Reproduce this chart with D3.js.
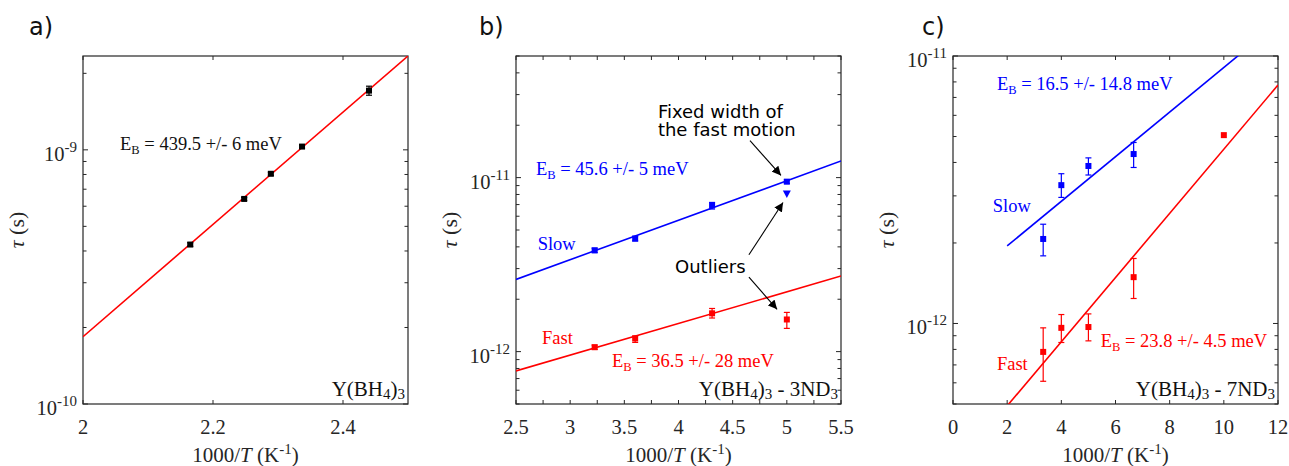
<!DOCTYPE html>
<html>
<head>
<meta charset="utf-8">
<script src="https://cdn.jsdelivr.net/npm/d3@7"></script>
<style>
  body { margin: 0; background: #fff; }
  text { font-family: "Liberation Serif", "Times New Roman", serif; }
  .sans { font-family: "DejaVu Sans", Verdana, sans-serif; }
</style>
</head>
<body>
<svg width="1289" height="466"></svg>
<script>
// ---- data ----
// panel a: Y(BH4)3
const aX = [2.165, 2.248, 2.289, 2.337, 2.44];
const aTau = [4.24e-10, 6.41e-10, 8.05e-10, 1.03e-9, 1.71e-9];
const aLo = [4.17e-10, 6.32e-10, 7.94e-10, 1.015e-9, 1.64e-9];
const aHi = [4.31e-10, 6.5e-10, 8.16e-10, 1.045e-9, 1.78e-9];
const aFit = [[2, 1.84e-10], [2.5, 2.34e-9]];

// panel b: Y(BH4)3 - 3ND3
const bX = [3.226, 3.6, 4.31, 5.0];
const bSlow = [3.82e-12, 4.46e-12, 6.92e-12, 9.48e-12];
const bSlowLo = [3.71e-12, 4.33e-12, 6.6e-12, 9.25e-12];
const bSlowHi = [3.93e-12, 4.6e-12, 7.2e-12, 9.7e-12];
const bFast = [1.06e-12, 1.19e-12, 1.66e-12, 1.53e-12];
const bFastLo = [1.03e-12, 1.13e-12, 1.56e-12, 1.36e-12];
const bFastHi = [1.09e-12, 1.23e-12, 1.77e-12, 1.68e-12];
const bFixedX = [5.0];
const bFixed = [8.05e-12];
const bSlowFit = [[2.5, 2.6e-12], [5.5, 1.246e-11]];
const bFastFit = [[2.5, 7.75e-13], [5.5, 2.72e-12]];

// panel c: Y(BH4)3 - 7ND3
const cSlowX = [3.33, 4.0, 5.0, 6.67];
const cSlow = [2.07e-12, 3.29e-12, 3.88e-12, 4.3e-12];
const cSlowLo = [1.79e-12, 2.96e-12, 3.59e-12, 3.83e-12];
const cSlowHi = [2.35e-12, 3.63e-12, 4.16e-12, 4.75e-12];
const cFastX = [3.33, 4.0, 5.0, 6.67, 10.0];
const cFast = [7.83e-13, 9.63e-13, 9.7e-13, 1.49e-12, 5.06e-12];
const cFastLo = [6.08e-13, 8.49e-13, 8.61e-13, 1.24e-12, null];
const cFastHi = [9.63e-13, 1.08e-12, 1.086e-12, 1.75e-12, null];
const cSlowFit = [[2, 1.95e-12], [12, 1.33e-11]];
const cFastFit = [[2, 4.92e-13], [12, 7.79e-12]];

const BLUE = "#0000ff", RED = "#ff0000", AX = "#262626";

const svg = d3.select("svg");
const plotTop = 56, plotBottom = 404;

function makePanel(o) {
  const g = svg.append("g");
  const x = d3.scaleLinear().domain(o.xDomain).range([o.left, o.right]);
  const y = d3.scaleLog().domain(o.yDomain).range([plotBottom, plotTop]);

  const clipId = "clip" + o.name;
  svg.append("clipPath").attr("id", clipId)
    .append("rect").attr("x", o.left).attr("y", plotTop)
    .attr("width", o.right - o.left).attr("height", plotBottom - plotTop);

  // frame
  g.append("rect").attr("x", o.left).attr("y", plotTop)
    .attr("width", o.right - o.left).attr("height", plotBottom - plotTop)
    .attr("fill", "none").attr("stroke", AX).attr("stroke-width", 1.2);

  // x ticks (inward, bottom & top)
  o.xTicks.forEach(t => {
    const px = x(t);
    g.append("line").attr("x1", px).attr("x2", px).attr("y1", plotBottom).attr("y2", plotBottom - 4)
      .attr("stroke", AX);
    g.append("line").attr("x1", px).attr("x2", px).attr("y1", plotTop).attr("y2", plotTop + 4)
      .attr("stroke", AX);
  });
  o.xLabels.forEach(t => {
    g.append("text").attr("x", x(t)).attr("y", 434).attr("text-anchor", "middle")
      .attr("font-size", 20.5).attr("fill", AX).text(o.xFmt(t));
  });

  // y ticks (log, with minor ticks)
  const [y0, y1] = o.yDomain;
  const e0 = Math.floor(Math.log10(y0)), e1 = Math.ceil(Math.log10(y1));
  for (let e = e0; e <= e1; e++) {
    for (let m = 1; m <= 9; m++) {
      const v = m * Math.pow(10, e);
      if (v < y0 * 0.999 || v > y1 * 1.001) continue;
      const py = y(v), len = m === 1 ? 5 : 3.5;
      g.append("line").attr("x1", o.left).attr("x2", o.left + len).attr("y1", py).attr("y2", py)
        .attr("stroke", AX);
      g.append("line").attr("x1", o.right).attr("x2", o.right - len).attr("y1", py).attr("y2", py)
        .attr("stroke", AX);
      if (m === 1) {
        const t = g.append("text").attr("x", o.left - 6).attr("y", py + 11)
          .attr("text-anchor", "end").attr("font-size", 20.5).attr("fill", AX);
        t.append("tspan").text("10");
        t.append("tspan").attr("dy", -9).attr("font-size", 15).text("-" + (-e));
      }
    }
  }

  // axis titles
  const xt = g.append("text").attr("x", (o.left + o.right) / 2).attr("y", 462)
    .attr("text-anchor", "middle").attr("font-size", 21).attr("fill", AX);
  xt.append("tspan").text("1000/");
  xt.append("tspan").attr("font-style", "italic").text("T");
  xt.append("tspan").text(" (K");
  xt.append("tspan").attr("dy", -8).attr("font-size", 15).text("-1");
  xt.append("tspan").attr("dy", 8).text(")");

  const yt = g.append("text")
    .attr("transform", `translate(${o.left - 59},${(plotTop + plotBottom) / 2}) rotate(-90)`)
    .attr("text-anchor", "middle").attr("font-size", 22).attr("fill", AX);
  yt.append("tspan").attr("font-style", "italic").text("\u03C4");
  yt.append("tspan").text(" (s)");

  // panel letter
  g.append("text").attr("class", "sans").attr("x", o.letterX).attr("y", 35)
    .attr("font-size", 24).attr("fill", "#111").text(o.letter);

  // sample name, bottom right
  const sn = g.append("text").attr("x", o.right - 3).attr("y", 396)
    .attr("text-anchor", "end").attr("font-size", 21).attr("fill", "#111");
  let shifted = false;
  o.sample.forEach(([s, sub]) => {
    let dy = 0;
    if (sub && !shifted) { dy = 3; shifted = true; }
    else if (!sub && shifted) { dy = -3; shifted = false; }
    sn.append("tspan").attr("font-size", sub ? 15 : 21).attr("dy", dy).text(s);
  });

  return { g, x, y, clipId };
}

function fitLine(p, pts, color) {
  p.g.append("path").attr("clip-path", `url(#${p.clipId})`)
    .attr("d", d3.line().x(d => p.x(d[0])).y(d => p.y(d[1]))(pts))
    .attr("fill", "none").attr("stroke", color).attr("stroke-width", 1.6);
}

function points(p, xs, ys, lo, hi, color, size) {
  xs.forEach((xv, i) => {
    const px = p.x(xv);
    if (lo && lo[i] != null) {
      const a = p.y(lo[i]), b = p.y(hi[i]);
      p.g.append("line").attr("x1", px).attr("x2", px).attr("y1", a).attr("y2", b)
        .attr("stroke", color).attr("stroke-width", 1.2);
      [a, b].forEach(c => p.g.append("line").attr("x1", px - 3).attr("x2", px + 3)
        .attr("y1", c).attr("y2", c).attr("stroke", color).attr("stroke-width", 1.2));
    }
    p.g.append("rect").attr("x", px - size / 2).attr("y", p.y(ys[i]) - size / 2)
      .attr("width", size).attr("height", size).attr("fill", color);
  });
}

function ebLabel(p, xv, yv, val, color) {
  const t = p.g.append("text").attr("x", p.x(xv)).attr("y", p.y(yv))
    .attr("font-size", 18.5).attr("fill", color);
  t.append("tspan").text("E");
  t.append("tspan").attr("font-size", 12.5).attr("dy", 4).text("B");
  t.append("tspan").attr("dy", -4).text(" = " + val);
}

function plainLabel(p, xv, yv, s, color) {
  p.g.append("text").attr("x", p.x(xv)).attr("y", p.y(yv))
    .attr("font-size", 18.5).attr("fill", color).text(s);
}

// ---- panel a ----
const pa = makePanel({
  name: "a", left: 83, right: 408, xDomain: [2, 2.5], yDomain: [1e-10, 2.34e-9],
  xTicks: [2, 2.2, 2.4], xLabels: [2, 2.2, 2.4], xFmt: d3.format(""),
  letter: "a)", letterX: 29,
  sample: [["Y(BH", 0], ["4", 1], [")", 0], ["3", 1]]
});
fitLine(pa, aFit, RED);
points(pa, aX, aTau, aLo, aHi, "#000", 6);
ebLabel(pa, 2.057, 1e-9, "439.5 +/- 6 meV", "#111");

// ---- panel b ----
const pb = makePanel({
  name: "b", left: 516, right: 841, xDomain: [2.5, 5.5], yDomain: [5e-13, 5e-11],
  xTicks: d3.range(2.5, 5.51, 0.25), xLabels: d3.range(2.5, 5.51, 0.5), xFmt: d3.format(""),
  letter: "b)", letterX: 479,
  sample: [["Y(BH", 0], ["4", 1], [")", 0], ["3", 1], [" - 3ND", 0], ["3", 1]]
});
fitLine(pb, bSlowFit, BLUE);
fitLine(pb, bFastFit, RED);
points(pb, bX, bSlow, bSlowLo, bSlowHi, BLUE, 6);
points(pb, bX, bFast, bFastLo, bFastHi, RED, 6);
bFixedX.forEach((xv, i) => {
  const px = pb.x(xv), py = pb.y(bFixed[i]);
  pb.g.append("path").attr("d", `M${px - 4},${py - 3.5}L${px + 4},${py - 3.5}L${px},${py + 4}Z`)
    .attr("fill", BLUE);
});
ebLabel(pb, 2.685, 1.04e-11, "45.6 +/- 5 meV", BLUE);
plainLabel(pb, 2.70, 3.82e-12, "Slow", BLUE);
plainLabel(pb, 2.74, 1.107e-12, "Fast", RED);
ebLabel(pb, 3.386, 8.17e-13, "36.5 +/- 28 meV", RED);

// annotations (sans)
const ann = pb.g.append("text").attr("class", "sans").attr("font-size", 18).attr("fill", "#000");
ann.append("tspan").attr("x", pb.x(3.81)).attr("y", pb.y(2.2e-11)).text("Fixed width of");
ann.append("tspan").attr("x", pb.x(3.81)).attr("y", pb.y(1.73e-11)).text("the fast motion");
pb.g.append("text").attr("class", "sans").attr("font-size", 18).attr("fill", "#000")
  .attr("x", pb.x(3.968)).attr("y", pb.y(2.82e-12)).text("Outliers");

svg.append("defs").append("marker").attr("id", "arr")
  .attr("viewBox", "0 0 10 10").attr("refX", 10).attr("refY", 5)
  .attr("markerWidth", 9).attr("markerHeight", 9).attr("markerUnits", "userSpaceOnUse")
  .attr("orient", "auto")
  .append("path").attr("d", "M0,0L10,5L0,10Z").attr("fill", "#000");

const arrows = [
  [[4.66, 1.63e-11], [4.946, 1.03e-11]],
  [[4.65, 3.6e-12], [4.965, 7.2e-12]],
  [[4.65, 2.68e-12], [4.91, 1.75e-12]]
];
arrows.forEach(([a, b]) => {
  pb.g.append("line").attr("x1", pb.x(a[0])).attr("y1", pb.y(a[1]))
    .attr("x2", pb.x(b[0])).attr("y2", pb.y(b[1]))
    .attr("stroke", "#000").attr("stroke-width", 1.1).attr("marker-end", "url(#arr)");
});

// ---- panel c ----
const pc = makePanel({
  name: "c", left: 953, right: 1278, xDomain: [0, 12], yDomain: [5e-13, 1e-11],
  xTicks: d3.range(0, 12.1, 2), xLabels: d3.range(0, 12.1, 2), xFmt: d3.format(""),
  letter: "c)", letterX: 922,
  sample: [["Y(BH", 0], ["4", 1], [")", 0], ["3", 1], [" - 7ND", 0], ["3", 1]]
});
fitLine(pc, cSlowFit, BLUE);
fitLine(pc, cFastFit, RED);
points(pc, cSlowX, cSlow, cSlowLo, cSlowHi, BLUE, 6);
points(pc, cFastX, cFast, cFastLo, cFastHi, RED, 6);
ebLabel(pc, 1.62, 7.46e-12, "16.5 +/- 14.8 meV", BLUE);
plainLabel(pc, 1.47, 2.61e-12, "Slow", BLUE);
ebLabel(pc, 5.455, 8.15e-13, "23.8 +/- 4.5 meV", RED);
plainLabel(pc, 1.62, 6.69e-13, "Fast", RED);
</script>
</body>
</html>
